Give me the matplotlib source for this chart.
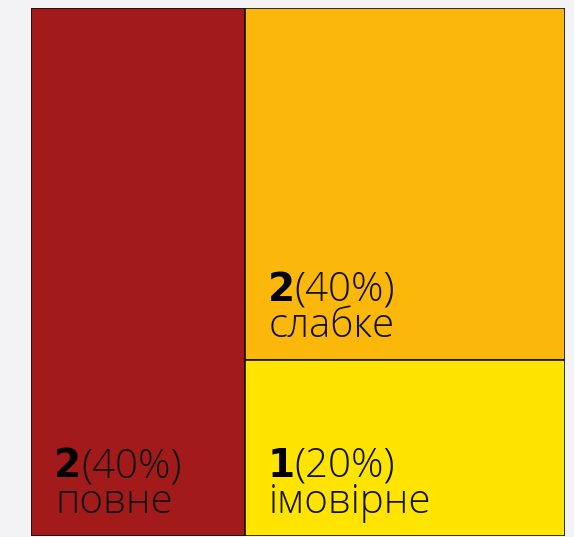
import matplotlib
matplotlib.use("Agg")
import matplotlib.pyplot as plt
from matplotlib.patches import Rectangle
from matplotlib.transforms import offset_copy

labels = ["повне", "слабке", "імовірне"]
counts = [2, 2, 1]
colors = ["#A21A19", "#FBB70A", "#FFE400"]

total = sum(counts)
pcts = [round(100 * c / total) for c in counts]

fig = plt.figure(figsize=(5.74, 5.37), dpi=100)
fig.patch.set_facecolor("#F3F3F5")
# box spans x 31..565, y 8..536 px
ax = fig.add_axes([31 / 574, 1 - 536 / 537, 534 / 574, 528 / 537])
ax.set_xlim(0, 1)
ax.set_ylim(0, 1)
ax.axis("off")

# simple slice layout: first item a full-height column, rest stacked on the right
w0 = counts[0] / total
rest = sum(counts[1:])
rects = [(0, 0, w0, 1)]
y = 1
for c in counts[1:]:
    h = c / rest
    y -= h
    rects.append((w0, y, 1 - w0, h))

renderer = fig.canvas.get_renderer()
fam = ["Open Sans", "DejaVu Sans"]
fs = 29
px = 72 / 100  # pixels -> points


def shifted(dx, dy):
    return offset_copy(ax.transData, fig=fig, x=dx * px, y=dy * px,
                       units="points")


for (x0, y0, w, h), lab, c, p, col in zip(rects, labels, counts, pcts, colors):
    ax.add_patch(Rectangle((x0, y0), w, h, facecolor=col, edgecolor="#111111",
                           linewidth=1.2))
    ax.text(x0, y0, lab, transform=shifted(24, 23), fontsize=fs, family=fam,
            fontweight="light", color="#111111", va="baseline", ha="left")
    tb = ax.text(x0, y0, str(c), transform=shifted(23, 59), fontsize=fs - 1,
                 family=["DejaVu Sans"], fontweight="bold", color="#000000",
                 va="baseline", ha="left")
    bw = tb.get_window_extent(renderer).width
    ax.text(x0, y0, f"({p}%)", transform=shifted(23 + bw, 59), fontsize=fs,
            family=fam, fontweight="light", color="#111111",
            va="baseline", ha="left")

fig.savefig("out.png", dpi=100, facecolor=fig.get_facecolor())
